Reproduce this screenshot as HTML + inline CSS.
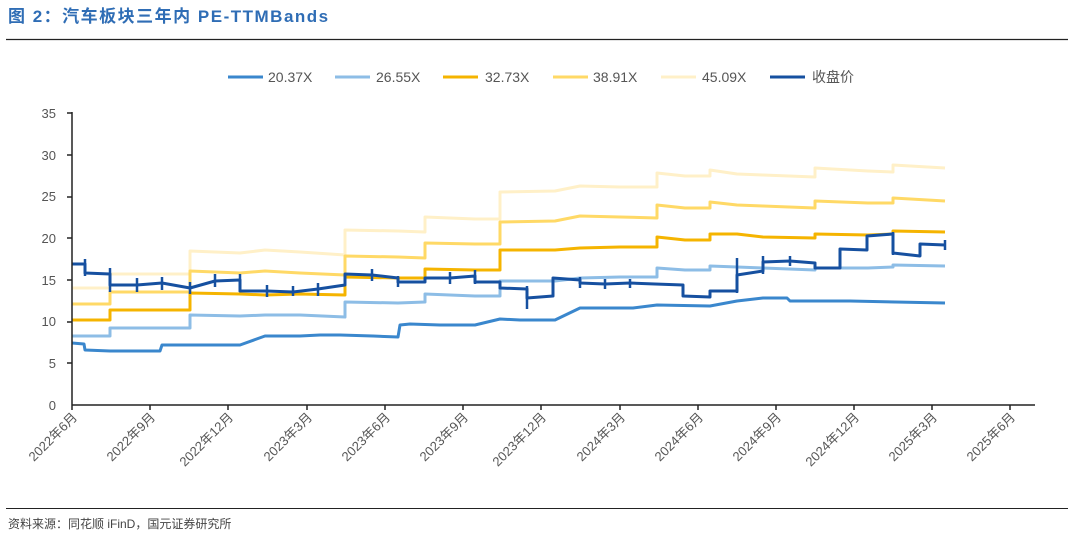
<!DOCTYPE html>
<html><head><meta charset="utf-8"><style>
body{margin:0;background:#fff;width:1075px;height:537px;overflow:hidden}
svg text{font-family:"Liberation Sans","Noto Sans CJK SC",sans-serif}
</style></head><body>
<svg width="1075" height="537" viewBox="0 0 1075 537" xmlns="http://www.w3.org/2000/svg">
<text x="8" y="22" font-size="17" font-weight="bold" fill="#2f6db5" letter-spacing="1.5">图 2：汽车板块三年内 PE-TTMBands</text>
<line x1="6" y1="39.5" x2="1068" y2="39.5" stroke="#222" stroke-width="1.2"/>
<line x1="6" y1="508.5" x2="1068" y2="508.5" stroke="#222" stroke-width="1"/>
<text x="8" y="528" font-size="12" fill="#444">资料来源：同花顺 iFinD，国元证券研究所</text>
<g font-size="14" fill="#555">
<line x1="228" y1="77" x2="263" y2="77" stroke="#3a87cd" stroke-width="3"/><text x="268" y="82">20.37X</text>
<line x1="335" y1="77" x2="370" y2="77" stroke="#8dbde6" stroke-width="3"/><text x="376" y="82">26.55X</text>
<line x1="443" y1="77" x2="478" y2="77" stroke="#f5b400" stroke-width="3"/><text x="485" y="82">32.73X</text>
<line x1="553" y1="77" x2="588" y2="77" stroke="#ffd966" stroke-width="3"/><text x="593" y="82">38.91X</text>
<line x1="661" y1="77" x2="696" y2="77" stroke="#fff0c8" stroke-width="3"/><text x="702" y="82">45.09X</text>
<line x1="770" y1="77" x2="805" y2="77" stroke="#1650a0" stroke-width="3"/><text x="812" y="82">收盘价</text>
</g>
<g font-size="13" fill="#555" text-anchor="end">
<text x="56" y="410">0</text><text x="56" y="368">5</text><text x="56" y="326">10</text><text x="56" y="285">15</text><text x="56" y="243">20</text><text x="56" y="201">25</text><text x="56" y="160">30</text><text x="56" y="118">35</text>
</g>
<g fill="none" stroke-width="3" stroke-linejoin="round">
<polyline stroke="#fff0c8" points="72,288 110,288 110,274 190,274 190,251 240,253 265,250 300,252 345,255 345,230 398,231 425,232 425,217 475,219 500,219 500,192 555,191 580,186 620,187 657,187 657,173 685,176 710,176 710,170 737,174 763,175 815,177 815,168 868,171 893,172 893,165 945,168"/>
<polyline stroke="#ffd966" points="72,304 110,304 110,292 190,292 190,271 240,273 265,271 300,273 345,275 345,256 398,257 425,258 425,243 475,244 500,244 500,222 555,221 580,216 620,217 657,218 657,205 685,208 710,208 710,202 737,205 763,206 815,208 815,201 868,203 893,203 893,198 945,201"/>
<polyline stroke="#f5b400" points="72,320 110,320 110,310 190,310 190,293 240,294 265,295 300,294 345,295 345,277 398,278 425,278 425,269 475,270 500,270 500,250 555,250 580,248 620,247 657,247 657,237 685,240 710,240 710,234 737,234 763,237 815,238 815,234 868,235 893,234 893,231 945,232"/>
<polyline stroke="#8dbde6" points="72,336 110,336 110,328 190,328 190,315 240,316 265,315 300,315 345,317 345,302 398,303 425,302 425,294 475,296 500,296 500,281 555,281 580,278 620,277 657,277 657,268 685,270 710,270 710,266 737,267 763,268 815,270 815,268 868,268 893,267 893,265 945,266"/>
<polyline stroke="#3a87cd" points="72,343 84,344 85,350 110,351 160,351 162,345 240,345 265,336 300,336 320,335 340,335 373,336 398,337 400,325 410,324 440,325 475,325 500,319 520,320 555,320 580,308 633,308 657,305 710,306 737,301 763,298 787,298 790,301 850,301 945,303"/>
<polyline stroke="#1650a0" points="72,264 85,264 85,273 110,274 110,285 137,285 162,283 190,288 215,281 240,280 240,291 267,291 293,292 318,289 345,285 345,274 372,275 398,278 398,282 425,282 425,278 450,278 475,276 475,282 500,282 500,288 527,289 527,298 553,296 553,278 580,280 580,283 605,284 630,283 655,284 683,285 683,296 710,297 710,291 737,291 737,275 763,271 763,262 790,261 815,263 815,268 840,268 840,249 867,250 867,236 893,234 893,253 920,256 920,244 945,245"/>
</g>
<g stroke="#1650a0" stroke-width="2.5">
<line x1="85" y1="259" x2="85" y2="276"/><line x1="110" y1="268" x2="110" y2="292"/><line x1="137" y1="278" x2="137" y2="292"/><line x1="162" y1="277" x2="162" y2="290"/><line x1="190" y1="282" x2="190" y2="294"/><line x1="215" y1="274" x2="215" y2="287"/><line x1="240" y1="274" x2="240" y2="292"/><line x1="267" y1="285" x2="267" y2="297"/><line x1="293" y1="286" x2="293" y2="296"/><line x1="318" y1="283" x2="318" y2="296"/><line x1="372" y1="269" x2="372" y2="281"/><line x1="398" y1="276" x2="398" y2="287"/><line x1="450" y1="272" x2="450" y2="284"/><line x1="475" y1="270" x2="475" y2="284"/><line x1="527" y1="286" x2="527" y2="309"/><line x1="580" y1="277" x2="580" y2="288"/><line x1="605" y1="279" x2="605" y2="289"/><line x1="630" y1="279" x2="630" y2="288"/><line x1="737" y1="258" x2="737" y2="293"/><line x1="763" y1="256" x2="763" y2="274"/><line x1="790" y1="256" x2="790" y2="266"/><line x1="893" y1="232" x2="893" y2="255"/><line x1="945" y1="240" x2="945" y2="250"/>
</g>
<g stroke="#222" stroke-width="1.5">
<line x1="72" y1="112" x2="72" y2="405"/><line x1="72" y1="405" x2="1035" y2="405"/>
<line x1="72" y1="405" x2="72" y2="410"/><line x1="150" y1="405" x2="150" y2="410"/><line x1="228" y1="405" x2="228" y2="410"/><line x1="307" y1="405" x2="307" y2="410"/><line x1="385" y1="405" x2="385" y2="410"/><line x1="463" y1="405" x2="463" y2="410"/><line x1="541" y1="405" x2="541" y2="410"/><line x1="620" y1="405" x2="620" y2="410"/><line x1="698" y1="405" x2="698" y2="410"/><line x1="776" y1="405" x2="776" y2="410"/><line x1="854" y1="405" x2="854" y2="410"/><line x1="932" y1="405" x2="932" y2="410"/><line x1="1010" y1="405" x2="1010" y2="410"/>
<line x1="67" y1="113" x2="72" y2="113"/><line x1="67" y1="155" x2="72" y2="155"/><line x1="67" y1="197" x2="72" y2="197"/><line x1="67" y1="238" x2="72" y2="238"/><line x1="67" y1="280" x2="72" y2="280"/><line x1="67" y1="322" x2="72" y2="322"/><line x1="67" y1="363" x2="72" y2="363"/>
</g>
<g font-size="13" fill="#555" text-anchor="end">
<text transform="translate(78,418) rotate(-45)">2022年6月</text>
<text transform="translate(156,418) rotate(-45)">2022年9月</text>
<text transform="translate(234,418) rotate(-45)">2022年12月</text>
<text transform="translate(313,418) rotate(-45)">2023年3月</text>
<text transform="translate(391,418) rotate(-45)">2023年6月</text>
<text transform="translate(469,418) rotate(-45)">2023年9月</text>
<text transform="translate(547,418) rotate(-45)">2023年12月</text>
<text transform="translate(626,418) rotate(-45)">2024年3月</text>
<text transform="translate(704,418) rotate(-45)">2024年6月</text>
<text transform="translate(782,418) rotate(-45)">2024年9月</text>
<text transform="translate(860,418) rotate(-45)">2024年12月</text>
<text transform="translate(938,418) rotate(-45)">2025年3月</text>
<text transform="translate(1016,418) rotate(-45)">2025年6月</text>
</g>
</svg>
</body></html>
